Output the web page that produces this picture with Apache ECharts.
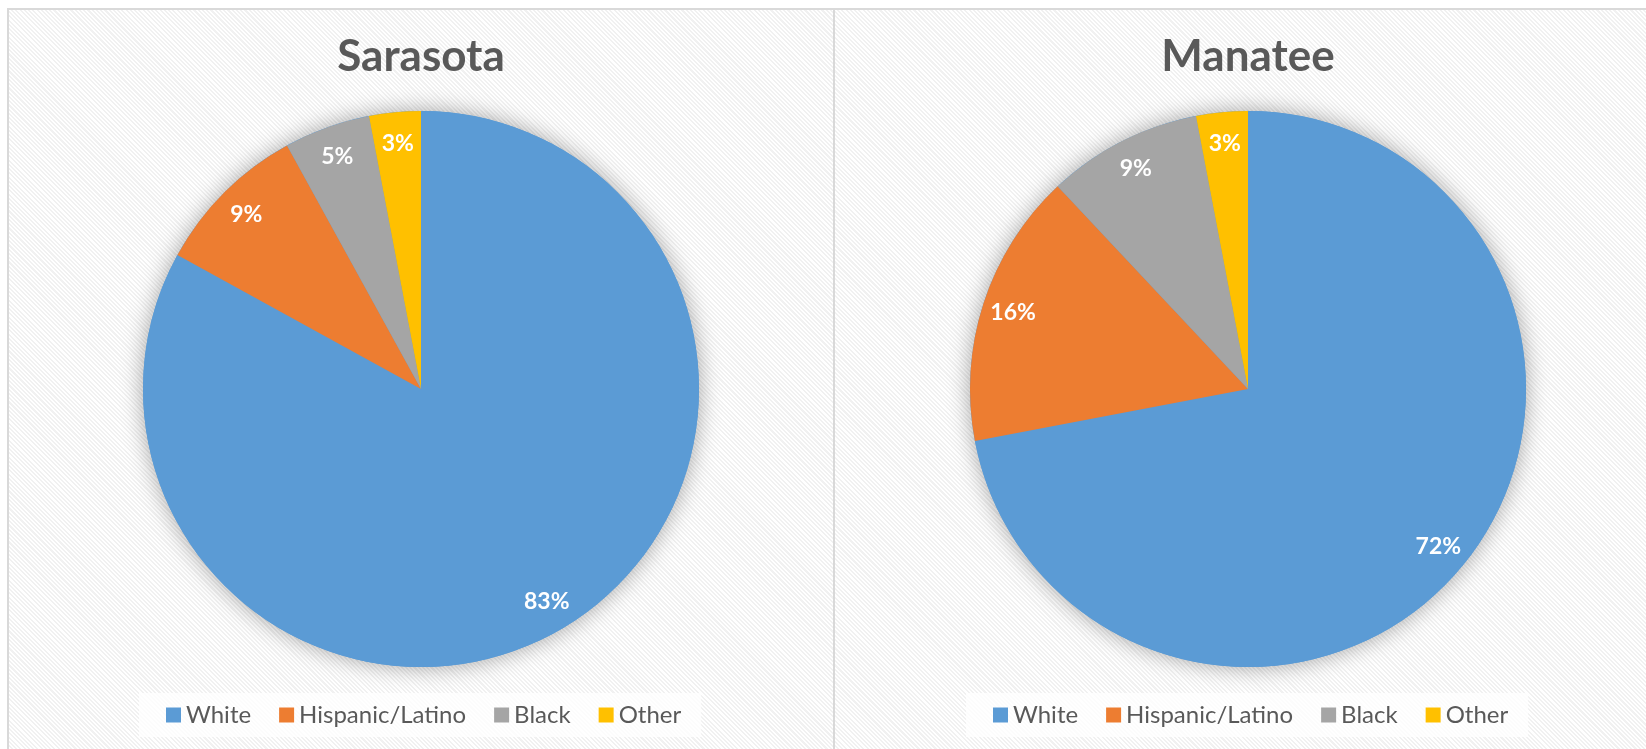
<!DOCTYPE html>
<html>
<head>
<meta charset="utf-8">
<title>Sarasota / Manatee</title>
<script src="https://cdn.jsdelivr.net/npm/echarts@6/dist/echarts.min.js"></script>
<style>
    html, body {margin: 0; padding: 0; background: #ffffff; overflow: hidden}
    .panel {
        position: absolute; top: 8px; height: 760px;
        border-top: 2px solid #d9d9d9; border-left: 2px solid #d9d9d9;
        background: repeating-linear-gradient(45deg, #ffffff 0 1.5px, #f1f1f1 1.5px 3px);
    }
    #main {position: absolute; left: 0; top: 0; width: 1646px; height: 749px}
</style>
</head>
<body>
<div class="panel" style="left:7px;width:826px"></div>
<div class="panel" style="left:833px;width:830px"></div>
<div id="main"></div>

<script>
    // data
    var categories = ['White', 'Hispanic/Latino', 'Black', 'Other'];
    var sarasota = [83, 9, 5, 3];
    var manatee = [72, 16, 9, 3];
    var counties = ['Sarasota', 'Manatee'];

    var colors = ['#5B9BD5', '#ED7D31', '#A5A5A5', '#FFC000'];
    var centers = [[421, 389], [1248, 389]];
    var R = 278;

    function pieData(values) {
        return values.map(function (v, i) {
            return {name: categories[i], value: v};
        });
    }

    var titles = [], legends = [], series = [];
    [sarasota, manatee].forEach(function (values, k) {
        var cx = centers[k][0];
        titles.push({
            text: counties[k], left: cx - 5, top: 30, textAlign: 'center',
            textStyle: {fontFamily: 'Lato', fontWeight: 'bold', fontSize: 44, color: '#595959'}
        });
        legends.push({
            data: categories, left: cx - 282, top: 693, icon: 'rect',
            itemWidth: 15, itemHeight: 15, itemGap: 28,
            padding: [10, 20, 10, 27],
            backgroundColor: 'rgba(255,255,255,0.8)',
            textStyle: {fontFamily: 'Lato', fontSize: 24, color: '#595959'}
        });
        // soft shadow under the whole pie
        series.push({
            type: 'pie', silent: true, center: centers[k], radius: [0, R],
            label: {show: false}, labelLine: {show: false},
            itemStyle: {color: '#5B9BD5', shadowBlur: 22, shadowColor: 'rgba(0,0,0,0.35)'},
            data: [{name: '_', value: 1}]
        });
        // visible slices
        series.push({
            type: 'pie', name: counties[k], center: centers[k], radius: [0, R],
            startAngle: 90, clockwise: true, color: colors,
            label: {show: false}, labelLine: {show: false},
            emphasis: {scale: false},
            data: pieData(values)
        });
        // transparent ring only used to place labels near the outer edge
        series.push({
            type: 'pie', silent: true, center: centers[k], radius: [210, R],
            startAngle: 90, clockwise: true,
            itemStyle: {color: 'rgba(0,0,0,0)'},
            label: {
                show: true, position: 'inside', formatter: '{c}%',
                fontFamily: 'Lato', fontWeight: 'bold', fontSize: 23, color: '#ffffff'
            },
            labelLine: {show: false},
            data: pieData(values)
        });
    });

    var chart = echarts.init(document.getElementById('main'));
    chart.setOption({
        backgroundColor: 'transparent',
        animation: false,
        title: titles,
        legend: legends,
        series: series
    });
</script>
</body>
</html>
